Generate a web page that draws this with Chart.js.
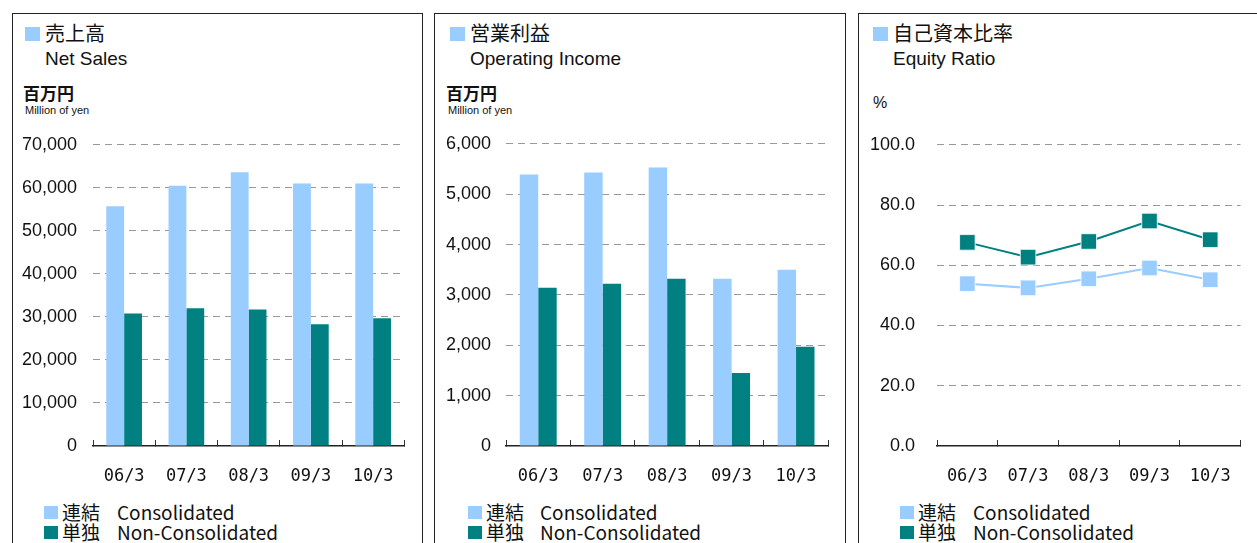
<!DOCTYPE html>
<html>
<head>
<meta charset="utf-8">
<script src="https://cdn.jsdelivr.net/npm/chart.js@4.4.1/dist/chart.umd.min.js"></script>
<style>
  body { margin: 0; width: 1257px; height: 543px; overflow: hidden; background: #fff; position: relative; }
  .panel { position: absolute; top: 13px; height: 560px; border: 1px solid #222; box-sizing: border-box; }
  .t { position: absolute; white-space: nowrap; color: #111; }
  .jp { font-family: "Noto Sans CJK JP", sans-serif; }
  .en { font-family: "Liberation Sans", Arial, sans-serif; }
  .sq { position: absolute; }
  canvas { position: absolute; }
</style>
</head>
<body>
<div class="panel" style="left:12px; width:411px;"></div>
<div class="panel" style="left:434px; width:412px;"></div>
<div class="panel" style="left:858px; width:420px;"></div>

<canvas id="c1" width="408" height="372" style="left:13px; top:118px;"></canvas>
<canvas id="c2" width="409" height="372" style="left:435px; top:118px;"></canvas>
<canvas id="c3" width="398" height="378" style="left:859px; top:112px;"></canvas>

<!-- panel 1 -->
<div class="sq" style="left:25px; top:27px; width:15px; height:14px; background:#99ccff;"></div>
<div class="t jp" style="left:45px; top:23px; font-size:20px; line-height:20px;">売上高</div>
<div class="t en" style="left:45px; top:49px; font-size:19px; line-height:19px;">Net Sales</div>
<div class="t jp" style="left:23px; top:84px; font-size:17px; line-height:17px; font-weight:bold;">百万円</div>
<div class="t en" style="left:25px; top:105px; font-size:11px; line-height:11px;">Million of yen</div>

<!-- panel 2 -->
<div class="sq" style="left:450px; top:27px; width:15px; height:14px; background:#99ccff;"></div>
<div class="t jp" style="left:470px; top:23px; font-size:20px; line-height:20px;">営業利益</div>
<div class="t en" style="left:470px; top:49px; font-size:19px; line-height:19px;">Operating Income</div>
<div class="t jp" style="left:446px; top:84px; font-size:17px; line-height:17px; font-weight:bold;">百万円</div>
<div class="t en" style="left:448px; top:105px; font-size:11px; line-height:11px;">Million of yen</div>

<!-- panel 3 -->
<div class="sq" style="left:873px; top:27px; width:15px; height:14px; background:#99ccff;"></div>
<div class="t jp" style="left:893px; top:23px; font-size:20px; line-height:20px;">自己資本比率</div>
<div class="t en" style="left:893px; top:49px; font-size:19px; line-height:19px;">Equity Ratio</div>
<div class="t en" style="left:873px; top:95px; font-size:16px; line-height:16px;">%</div>

<div id="legends"></div>

<script>
const periods = ['06/3', '07/3', '08/3', '09/3', '10/3']

const salesCons = [55700, 60500, 63600, 61000, 61000]
const salesNon  = [30800, 32000, 31700, 28300, 29700]

const opCons = [5390, 5430, 5530, 3320, 3500]
const opNon  = [3140, 3220, 3320, 1450, 1970]

const eqCons = [53.9, 52.5, 55.5, 59.1, 55.2]
const eqNon  = [67.6, 62.7, 67.9, 74.7, 68.5]

const legendNames = [['連結', 'Consolidated'], ['単独', 'Non-Consolidated']]

const LIGHT = '#99ccff'
const TEAL = '#008080'

// legends drawn as html under each chart
const legendPos = [
    {sq: 44, jp: 62, en: 117},
    {sq: 468, jp: 486, en: 540},
    {sq: 900, jp: 918, en: 973},
]
let html = ''
legendPos.forEach(p => {
    legendNames.forEach((n, i) => {
        let top = 502 + i * 20
        let col = i == 0 ? LIGHT : TEAL
        html += '<div class="sq" style="left:' + p.sq + 'px; top:' + (top + 4) + 'px; width:14px; height:13px; background:' + col + ';"></div>'
        html += '<div class="t jp" style="left:' + p.jp + 'px; top:' + top + 'px; font-size:19px; line-height:19px;">' + n[0] + '</div>'
        html += '<div class="t jp" style="left:' + p.en + 'px; top:' + top + 'px; font-size:19px; line-height:19px;">' + n[1] + '</div>'
    })
})
document.getElementById('legends').innerHTML = html

function makeChart(id, type, cons, non, yMax, yStep, yWidth, yPad, padRight, fmt) {
    let datasets
    if (type == 'bar') {
        datasets = [
            {label: legendNames[0][1], data: cons, backgroundColor: LIGHT,
             categoryPercentage: 0.573, barPercentage: 1.0},
            {label: legendNames[1][1], data: non, backgroundColor: TEAL,
             categoryPercentage: 0.573, barPercentage: 1.0},
        ]
    } else {
        datasets = [
            {label: legendNames[0][1], data: cons, borderColor: LIGHT, backgroundColor: LIGHT,
             borderWidth: 2, pointStyle: 'rect', pointRadius: 11,
             pointBorderColor: 'rgba(255,255,255,0.8)', pointBorderWidth: 1},
            {label: legendNames[1][1], data: non, borderColor: TEAL, backgroundColor: TEAL,
             borderWidth: 2, pointStyle: 'rect', pointRadius: 11,
             pointBorderColor: 'rgba(255,255,255,0.8)', pointBorderWidth: 1},
        ]
    }
    return new Chart(document.getElementById(id), {
        type: type,
        data: {labels: periods, datasets: datasets},
        options: {
            responsive: false,
            animation: false,
            layout: {autoPadding: false, padding: {top: 2, right: padRight, left: 0, bottom: 0}},
            plugins: {legend: {display: false}, tooltip: {enabled: false}},
            scales: {
                x: {
                    offset: true,
                    grid: {offset: true, drawOnChartArea: false, drawTicks: true,
                           tickLength: -6, color: '#333', tickColor: '#333'},
                    border: {display: true, color: '#222', width: 1.5},
                    ticks: {padding: 26, color: '#111',
                            font: {family: 'DejaVu Sans Mono', size: 17}},
                    afterFit: (scale) => { scale.height = 44 },
                },
                y: {
                    min: 0, max: yMax,
                    grid: {drawTicks: false,
                           color: (c) => c.tick && c.tick.value === 0 ? 'rgba(0,0,0,0)' : '#999'},
                    border: {display: false, dash: [7, 5]},
                    ticks: {stepSize: yStep, padding: yPad, color: '#111',
                            font: {family: 'Liberation Sans', size: 18},
                            callback: fmt},
                    afterFit: (scale) => { scale.width = yWidth },
                },
            },
        },
    })
}

let comma = (v) => v.toLocaleString('en-US')
makeChart('c1', 'bar', salesCons, salesNon, 70000, 10000, 80, 16, 14, comma)
makeChart('c2', 'bar', opCons, opNon, 6000, 1000, 71, 15, 15, comma)
makeChart('c3', 'line', eqCons, eqNon, 100, 20, 78, 22, 3, (v) => v.toFixed(1))
</script>
</body>
</html>
